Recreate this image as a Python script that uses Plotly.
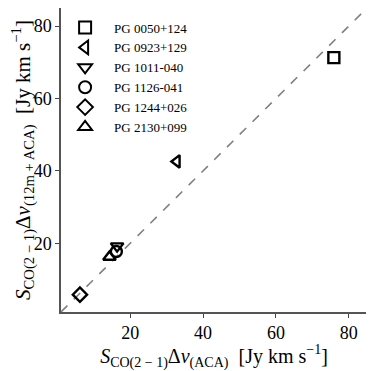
import plotly.graph_objects as go

names = ["PG 0050+124", "PG 0923+129", "PG 1011-040", "PG 1126-041", "PG 1244+026", "PG 2130+099"]
symbols = ["square-open", "triangle-left-open", "triangle-down-open", "circle-open", "diamond-open", "triangle-up-open"]
flux_aca = [75.9, 32.8, 16.4, 16.2, 6.2, 14.3]
flux_12m_aca = [71.3, 42.6, 19.2, 17.7, 5.8, 16.2]
line_range = [1, 85]

font = "Liberation Serif"

fig = go.Figure()
fig.add_trace(go.Scatter(
    x=line_range, y=line_range, mode="lines",
    line=dict(color="gray", width=1.6, dash="dash"),
    showlegend=False, hoverinfo="skip",
))
for n, s, x, y in zip(names, symbols, flux_aca, flux_12m_aca):
    fig.add_trace(go.Scatter(
        x=[x], y=[y], mode="markers", name=n,
        marker=dict(symbol=s, size=11, color="black", line=dict(width=2.4, color="black")),
    ))

axis = dict(
    range=line_range, tickvals=[20, 40, 60, 80], ticks="outside", ticklen=4,
    tickcolor="#444", showgrid=False, zeroline=False, showline=True, mirror=True,
    linecolor="#555", linewidth=1.5, automargin=False,
    tickfont=dict(family=font, size=18, color="black"),
)
fig.update_xaxes(**axis, title=dict(
    text="<i>S</i><sub>CO(2 − 1)</sub>Δ<i>v</i><sub>(ACA)</sub>  [Jy km s<sup>−1</sup>]",
    font=dict(family=font, size=20, color="black"), standoff=2))
fig.update_yaxes(**axis, title=dict(
    text="<i>S</i><sub>CO(2 − 1)</sub>Δ<i>v</i><sub>(12m + ACA)</sub>  [Jy km s<sup>−1</sup>]",
    font=dict(family=font, size=21, color="black"), standoff=0))

# page has an 8px body margin, so the figure is a bit smaller than the window
fig.update_layout(
    width=366, height=363,
    margin=dict(l=53, r=7, t=0, b=59),
    plot_bgcolor="white", paper_bgcolor="white",
    font=dict(family=font, color="black"),
    legend=dict(x=-0.016, y=0.985, xanchor="left", yanchor="top",
                bgcolor="rgba(0,0,0,0)", font=dict(family=font, size=13),
                tracegroupgap=0, itemwidth=48, itemsizing="constant"),
)
fig.write_html("out.html")
